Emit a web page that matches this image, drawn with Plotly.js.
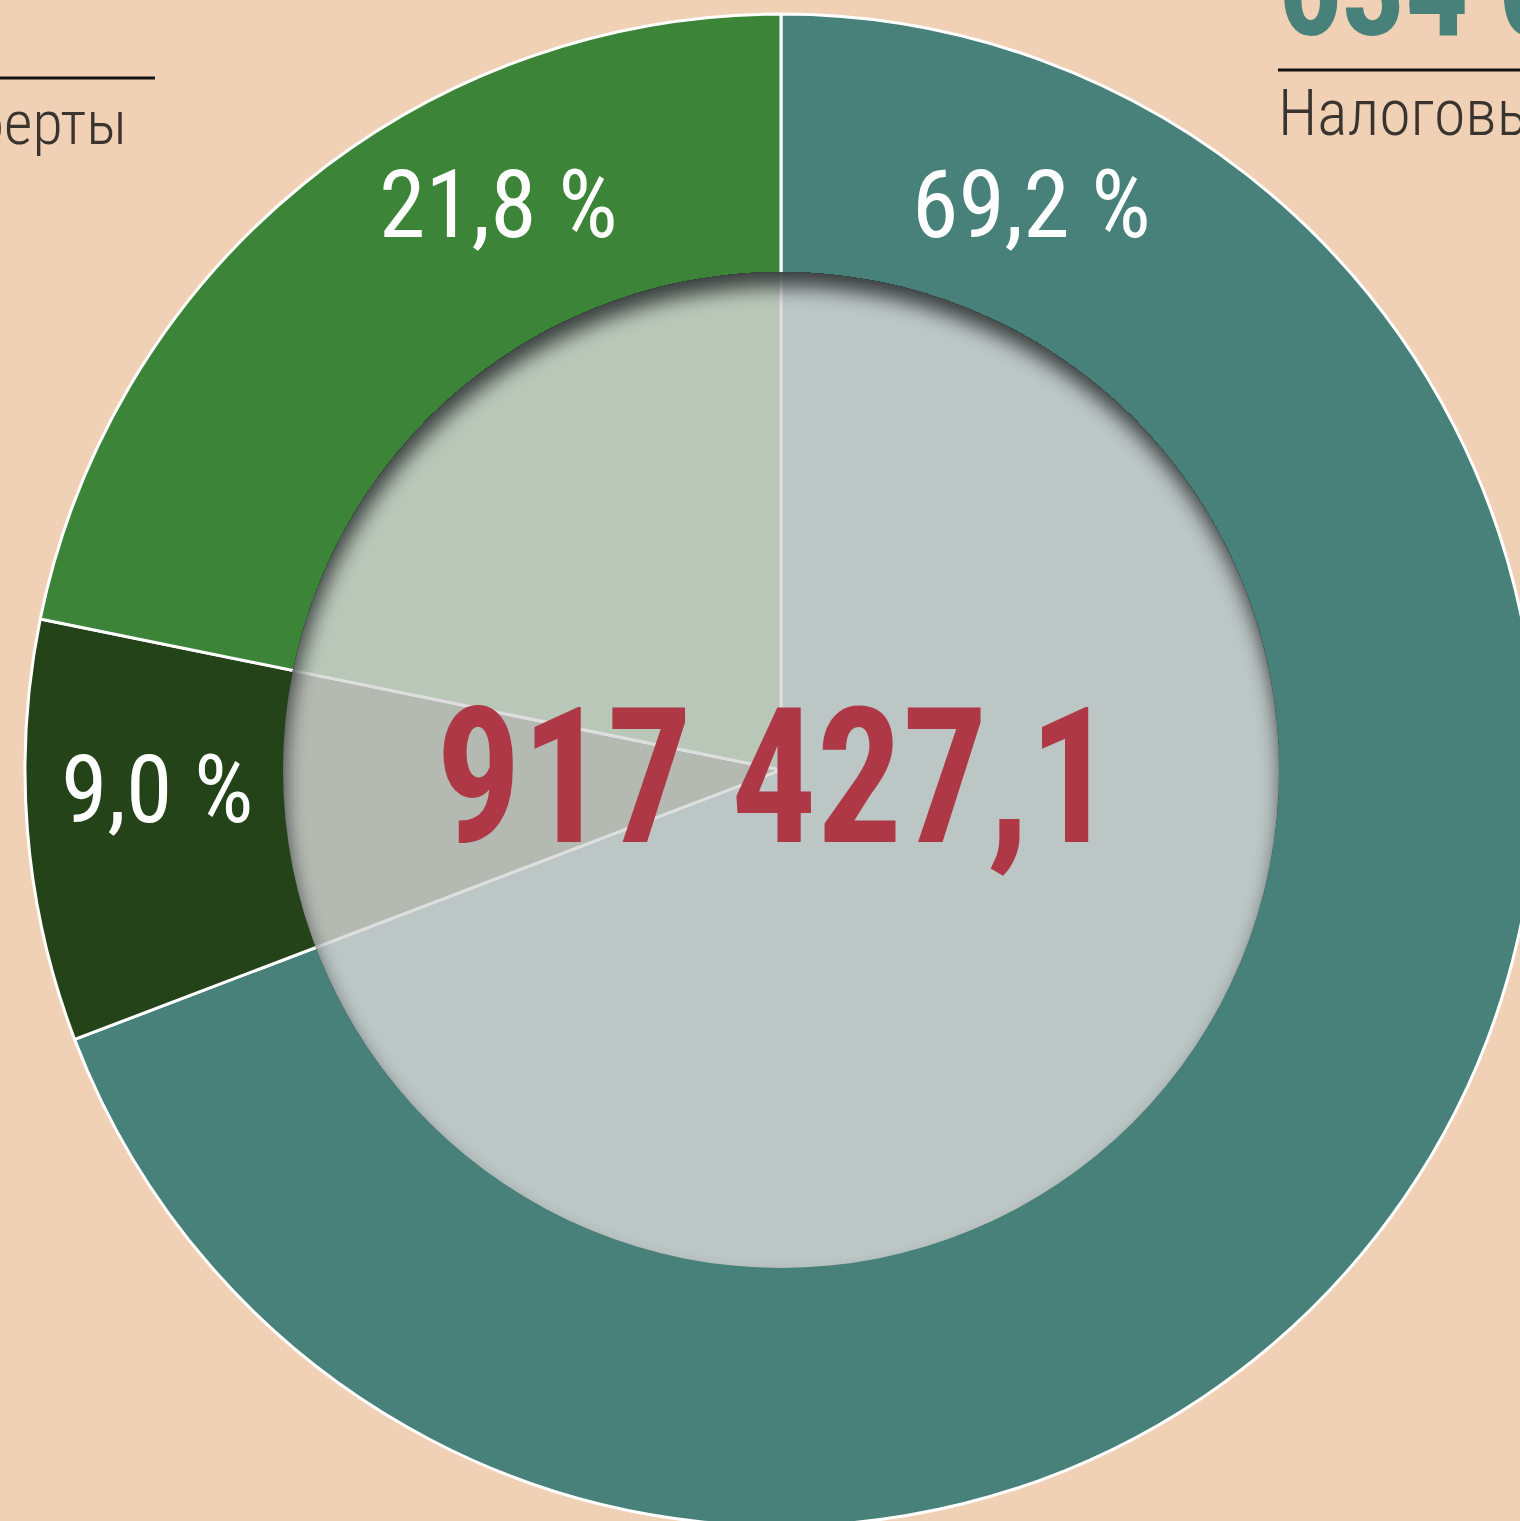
<!DOCTYPE html>
<html><head><meta charset="utf-8">
<script src="https://cdn.plot.ly/plotly-3.0.1.min.js"></script>
<style>
html,body{margin:0;padding:0;overflow:hidden;background:#F1D1B5;width:1520px;height:1521px;position:relative}
#chart{width:2400px;height:1800px;position:absolute;left:-440px;top:-200px}
.annotation-text{font-stretch:75%}
</style>
</head><body><div id="chart"></div>
<script>
// ---- data ----
const categories = ['Налоговые доходы', 'Неналоговые доходы', 'Трансферты'];
const shares = [69.2, 9.0, 21.8];
const sliceColors = ['#48817A', '#244319', '#3C8538'];
const totalValue = 917427.1;
const taxHeadline = '634 0';
const sideLabels = ['Налоговые доходы', 'Трансферты'];

// ---- helpers (screen px -> paper coords) ----
const W = 2400, H = 1800, OX = 440, OY = 200;
const px = x => (x + OX) / W;
const py = y => 1 - (y + OY) / H;
function fmtNum(v, d) {
  const s = v.toFixed(d).split('.');
  const int = s[0].replace(/\B(?=(\d{3})+(?!\d))/g, ' ');
  return d > 0 ? int + ',' + s[1] : int;
}
const cx = 781, cy = 770, R = 756, r = 498;

const data = [{
  type: 'pie',
  values: shares,
  labels: categories,
  sort: false,
  direction: 'clockwise',
  rotation: 0,
  textinfo: 'none',
  hoverinfo: 'skip',
  showlegend: false,
  marker: { colors: sliceColors, line: { color: '#ffffff', width: 3 } },
  domain: { x: [px(cx - R), px(cx + R)], y: [py(cy + R), py(cy - R)] }
}];

const labelPos = [[1031, 205], [157, 790], [498, 205]];
const annotations = shares.map((v, i) => ({
  xref: 'paper', yref: 'paper', x: px(labelPos[i][0]), y: py(labelPos[i][1]),
  xanchor: 'center', yanchor: 'middle', showarrow: false,
  text: fmtNum(v, 1) + ' %',
  font: { family: 'Roboto', size: 94, color: '#ffffff', weight: 400 }
}));
annotations.push({
  xref: 'paper', yref: 'paper', x: px(775), y: py(777),
  xanchor: 'center', yanchor: 'middle', showarrow: false,
  text: fmtNum(totalValue, 1),
  font: { family: 'Roboto', size: 190, color: '#AE3846', weight: 700 }
});
annotations.push({
  xref: 'paper', yref: 'paper', x: px(1276), y: py(-13),
  xanchor: 'left', yanchor: 'middle', align: 'left', showarrow: false,
  text: taxHeadline,
  font: { family: 'Roboto', size: 140, color: '#48817A', weight: 700 }
});
annotations.push({
  xref: 'paper', yref: 'paper', x: px(1276), y: py(114),
  xanchor: 'left', yanchor: 'middle', align: 'left', showarrow: false,
  text: sideLabels[0],
  font: { family: 'Roboto', size: 64, color: '#3a3430', weight: 300 }
});
annotations.push({
  xref: 'paper', yref: 'paper', x: px(129), y: py(122),
  xanchor: 'right', yanchor: 'middle', align: 'right', showarrow: false,
  text: sideLabels[1],
  font: { family: 'Roboto', size: 62, color: '#3a3430', weight: 300 }
});

const layout = {
  width: W, height: H,
  margin: { l: 0, r: 0, t: 0, b: 0 },
  paper_bgcolor: '#F1D1B5', plot_bgcolor: '#F1D1B5',
  showlegend: false,
  shapes: [
    { type: 'circle', xref: 'paper', yref: 'paper', layer: 'above',
      x0: px(cx - r), x1: px(cx + r), y0: py(cy + r), y1: py(cy - r),
      fillcolor: 'rgba(214,214,214,0.81)', line: { width: 0 } },
    { type: 'line', xref: 'paper', yref: 'paper', x0: px(-100), x1: px(155), y0: py(78), y1: py(78),
      line: { color: '#111111', width: 3 } },
    { type: 'line', xref: 'paper', yref: 'paper', x0: px(1278), x1: px(1700), y0: py(70), y1: py(70),
      line: { color: '#111111', width: 3 } }
  ],
  annotations: annotations
};

Plotly.newPlot('chart', data, layout, { staticPlot: true, displayModeBar: false }).then(gd => {
  const ns = 'http://www.w3.org/2000/svg';
  const svg = gd.querySelector('svg.main-svg');
  let defs = svg.querySelector('defs');
  if (!defs) { defs = document.createElementNS(ns, 'defs'); svg.insertBefore(defs, svg.firstChild); }
  const f = document.createElementNS(ns, 'filter');
  f.setAttribute('id', 'innerShadow');
  f.setAttribute('x', '-5%'); f.setAttribute('y', '-5%');
  f.setAttribute('width', '110%'); f.setAttribute('height', '110%');
  f.setAttribute('color-interpolation-filters', 'sRGB');
  f.innerHTML =
    '<feColorMatrix in="SourceAlpha" type="matrix" values="0 0 0 0 0  0 0 0 0 0  0 0 0 0 0  0 0 0 100 0" result="mask"/>' +
    '<feComponentTransfer in="mask" result="inv"><feFuncA type="table" tableValues="1 0"/></feComponentTransfer>' +
    '<feOffset in="inv" dx="2" dy="15" result="off"/>' +
    '<feGaussianBlur in="off" stdDeviation="10" result="blur"/>' +
    '<feComposite in="blur" in2="mask" operator="in" result="sh"/>' +
    '<feColorMatrix in="sh" type="matrix" values="0 0 0 0 0.2  0 0 0 0 0.22  0 0 0 0 0.22  0 0 0 0.95 0" result="shc"/>' +
    '<feMerge><feMergeNode in="SourceGraphic"/><feMergeNode in="shc"/></feMerge>';
  defs.appendChild(f);
  const circ = gd.querySelector('.layer-above .shapelayer path[data-index="0"]') ||
               gd.querySelector('.shapelayer path');
  if (circ) circ.setAttribute('filter', 'url(#innerShadow)');
  gd.querySelectorAll('.annotation-text').forEach(t => {
    if (t.textContent === fmtNum(totalValue, 1)) {
      t.style.transformBox = 'fill-box';
      t.style.transformOrigin = 'center';
      t.style.transform = 'scaleX(0.89)';
    } else if (t.textContent === taxHeadline) {
      t.style.transformBox = 'fill-box';
      t.style.transformOrigin = 'left';
      t.style.transform = 'scaleX(0.9)';
    }
  });
});
</script>
</body></html>
